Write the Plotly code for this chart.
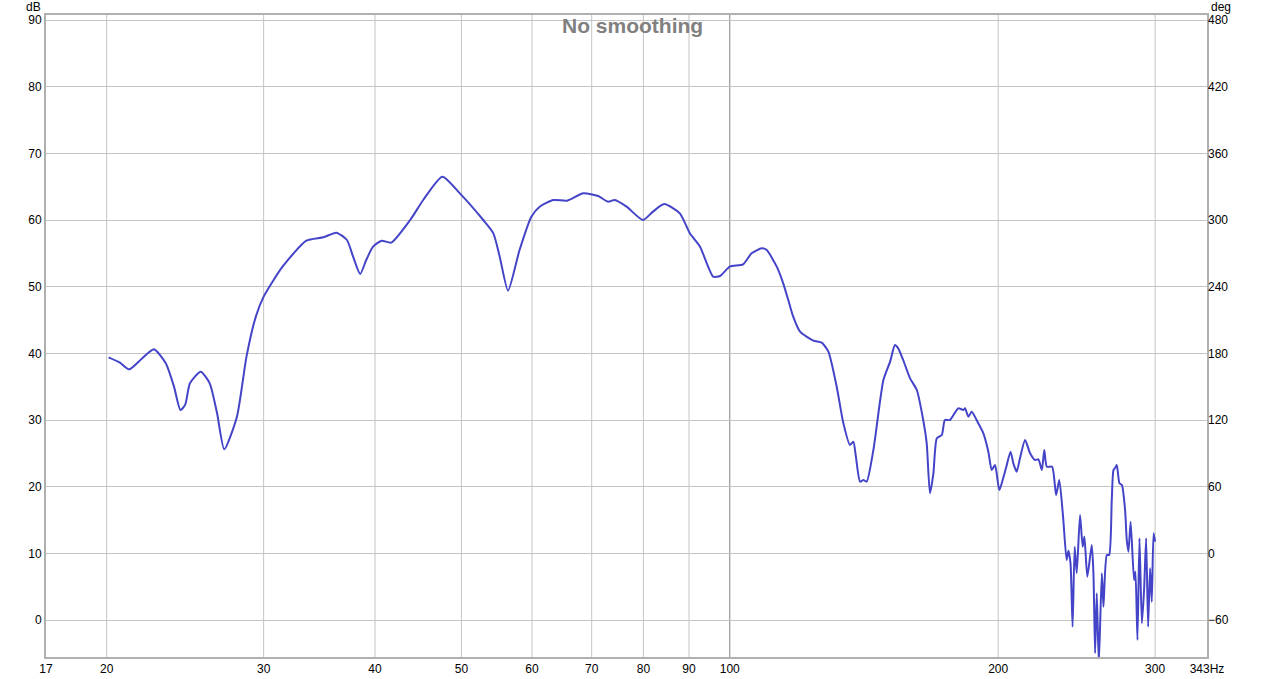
import plotly.graph_objects as go
import math

# ---- data (frequency in Hz, level in dB) ----
freq_hz = [
    20.1, 20.7, 21.2, 21.9, 22.6, 23.3, 23.8, 24.2, 24.5, 24.8,
    25.5, 26.1, 26.6, 27.1, 28.0, 28.7, 29.4, 30.0, 31.5, 33.5,
    35.0, 36.2, 37.2, 37.8, 38.5, 39.1, 39.8, 40.7, 41.7, 43.8,
    45.3, 47.6, 49.8, 52.9, 54.3, 55.2, 56.4, 58.1, 59.9, 61.2,
    63.4, 65.7, 68.5, 71.2, 73.0, 74.3, 76.6, 79.9, 82.0, 84.4,
    87.9, 90.2, 92.6, 95.8, 97.5, 100.0, 103.5, 105.8, 108.6, 110.0,
    112.9, 114.8, 116.3, 117.8, 119.9, 124.1, 126.8, 129.0, 131.8, 134.1,
    136.4, 137.6, 138.5, 140.0, 141.2, 142.4, 144.9, 148.7, 151.3, 153.2,
    154.5, 156.5, 159.3, 162.1, 164.8, 166.3, 167.7, 169.2, 170.7, 172.9,
    174.3, 176.6, 180.4, 182.8, 183.6, 185.2, 186.8, 190.0, 192.5, 195.0,
    196.7, 198.4, 200.6, 202.6, 204.5, 206.5, 208.0, 209.8, 211.6, 214.4,
    217.2, 220.0, 221.9, 223.9, 225.3, 226.8, 229.9, 232.3, 234.2, 236.5,
    238.7, 239.8, 241.1, 242.4, 243.7, 245.0, 247.1, 248.8, 249.9, 251.8,
    254.7, 255.8, 256.9, 258.0, 259.4, 261.4, 262.5, 264.8, 266.4, 268.2,
    269.4, 270.5, 271.7, 273.6, 275.3, 277.6, 278.8, 280.0, 281.6, 284.1,
    285.1, 286.6, 288.1, 289.9, 291.6, 293.1, 294.6, 296.1, 297.4, 298.8,
    300.0,
]
spl_db = [
    39.4, 38.6, 37.6, 39.2, 40.6, 38.5, 35.0, 31.5, 32.3, 35.5,
    37.25, 35.5, 31.0, 25.6, 30.5, 39.5, 45.5, 48.5, 53.0, 56.9,
    57.4, 58.1, 57.0, 54.5, 51.9, 54.0, 56.0, 56.9, 56.6, 60.0,
    63.0, 66.5, 64.0, 60.0, 58.0, 54.5, 49.4, 55.5, 60.5, 62.0,
    63.0, 62.9, 64.0, 63.6, 62.75, 63.0, 62.0, 60.0, 61.25, 62.4,
    61.0, 58.0, 56.0, 51.5, 51.6, 53.0, 53.35, 55.0, 55.75, 55.5,
    53.0, 50.5, 48.0, 45.5, 43.25, 41.9, 41.6, 40.25, 35.0, 29.5,
    26.25, 26.75, 24.5, 20.75, 21.0, 20.75, 25.5, 36.0, 38.75, 41.25,
    40.75, 39.0, 36.25, 34.5, 30.0, 26.5, 19.0, 22.0, 27.25, 27.75,
    30.0, 30.0, 31.75, 31.5, 31.75, 30.5, 31.25, 29.5, 28.0, 25.25,
    22.5, 23.25, 19.5, 21.25, 23.25, 25.25, 23.5, 22.25, 24.25, 27.0,
    25.0, 24.0, 24.1, 22.5, 25.5, 23.0, 23.0, 18.75, 21.0, 15.5,
    9.0, 10.4, 8.5, -1.0, 11.0, 7.0, 15.75, 11.0, 12.5, 6.5,
    11.25, 7.0, -5.0, 4.0, -6.5, 7.0, 2.0, 9.75, 9.75, 18.0,
    22.5, 22.8, 23.25, 20.5, 20.25, 16.5, 12.0, 10.25, 14.75, 6.0,
    7.25, -3.0, 12.25, -0.5, 4.75, 12.25, -1.0, 7.75, 2.75, 13.0,
    11.75,
]

x_tick_vals = [17.1, 20, 30, 40, 50, 60, 70, 80, 90, 100, 200, 300, 343]
x_tick_text = ["17", "20", "30", "40", "50", "60", "70", "80", "90", "100", "200", "300", "343Hz"]
x_grid_vals = [20, 30, 40, 50, 60, 70, 80, 90, 200, 300]
db_ticks = [0, 10, 20, 30, 40, 50, 60, 70, 80, 90]
deg_ticks = [-60, 0, 60, 120, 180, 240, 300, 360, 420, 480]
x_range_hz = [17.1, 343]
db_range = [-5.55, 90.75]
deg_range = [6 * db_range[0] - 60, 6 * db_range[1] - 60]

FONT = "Liberation Sans, Arial, sans-serif"

fig = go.Figure()
fig.add_trace(go.Scatter(
    x=freq_hz, y=spl_db, mode="lines",
    line=dict(color="#4444c8", width=2, shape="spline", smoothing=0.6),
    hoverinfo="x+y", showlegend=False,
))
# empty trace to attach the phase axis
fig.add_trace(go.Scatter(x=[], y=[], yaxis="y2", showlegend=False))

shapes = []
for v in x_grid_vals:
    shapes.append(dict(type="line", xref="x", yref="paper", x0=v, x1=v, y0=0, y1=1,
                       line=dict(color="#c4c4c4", width=1), layer="below"))
shapes.append(dict(type="line", xref="x", yref="paper", x0=100, x1=100, y0=0, y1=1,
                   line=dict(color="#808080", width=1), layer="below"))

fig.update_layout(
    width=1265, height=679,
    margin=dict(l=46, r=58, t=15, b=22, autoexpand=False),
    paper_bgcolor="white", plot_bgcolor="white",
    font=dict(family=FONT, size=12, color="#000000"),
    shapes=shapes,
    xaxis=dict(
        type="log", range=[math.log10(x_range_hz[0]), math.log10(x_range_hz[1])],
        tickmode="array", tickvals=x_tick_vals, ticktext=x_tick_text,
        showgrid=False, zeroline=False, ticks="", automargin=False,
        showline=True, linecolor="#b0b0b0", linewidth=2, mirror=True,
        tickfont=dict(size=12, color="#000000"),
    ),
    yaxis=dict(
        range=db_range, tickmode="array", tickvals=db_ticks, automargin=False,
        showgrid=True, gridcolor="#c4c4c4", gridwidth=1, zeroline=False, ticks="",
        showline=True, linecolor="#b0b0b0", linewidth=2, mirror=True,
        tickfont=dict(size=12, color="#000000"),
    ),
    yaxis2=dict(
        range=deg_range, tickmode="array", tickvals=deg_ticks, automargin=False,
        overlaying="y", side="right", showgrid=False, zeroline=False, ticks="",
        showline=False, tickfont=dict(size=12, color="#000000"),
    ),
    annotations=[
        dict(text="<b>No smoothing</b>", xref="paper", yref="paper", x=0.505, y=1,
             xanchor="center", yanchor="top", yshift=3, showarrow=False,
             font=dict(size=21, color="#808080", family=FONT)),
        dict(text="dB", xref="paper", yref="paper", x=0, y=1, xanchor="right",
             yanchor="bottom", xshift=-3, yshift=-1, showarrow=False,
             font=dict(size=12, color="#000000", family=FONT)),
        dict(text="deg", xref="paper", yref="paper", x=1, y=1, xanchor="left",
             yanchor="bottom", xshift=2, yshift=-1, showarrow=False,
             font=dict(size=12, color="#000000", family=FONT)),
    ],
)

fig.write_html(
    "out.html",
    config={"displayModeBar": False},
    post_script="document.body.style.margin='0';document.body.style.overflow='hidden';",
)
